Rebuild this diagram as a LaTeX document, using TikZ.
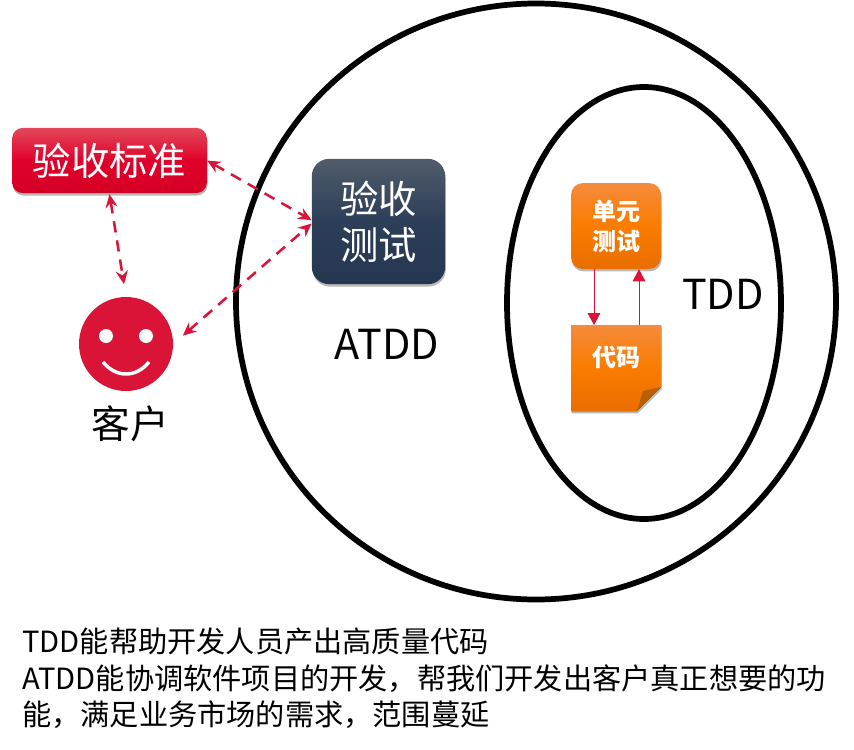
\documentclass[tikz,border=0pt]{standalone}
\usepackage{fontspec}
\setmainfont{Noto Sans CJK SC}
\usepackage{xcolor}
\usetikzlibrary{arrows.meta,positioning,calc,shapes.geometric,shadows}

\definecolor{smilered}{HTML}{DA1436}
\definecolor{foldbrown}{HTML}{B85F00}

\begin{document}
\begin{tikzpicture}[
    x=0.75pt, y=-0.75pt,
    ring/.style={ellipse, draw, line width=4.3pt, inner sep=0pt},
    softshadow/.style={drop shadow={shadow xshift=0.5pt, shadow yshift=-1.8pt, opacity=0.28, fill=black}},
    redbox/.style={rectangle, rounded corners=8pt, minimum width=146pt, minimum height=49pt, inner sep=0pt, softshadow, top color={rgb,255:red,226;green,72;blue,90}, bottom color={rgb,255:red,213;green,0;blue,36}, middle color={rgb,255:red,224;green,0;blue,43}, text=white, font=\fontsize{28.8}{34}\selectfont},
    darkbox/.style={rectangle, rounded corners=13pt, minimum width=100pt, minimum height=94pt, inner sep=0pt, align=center, softshadow, top color={rgb,255:red,81;green,92;blue,107}, bottom color={rgb,255:red,37;green,54;blue,80}, middle color={rgb,255:red,44;green,62;blue,88}, text=white, font=\fontsize{28.8}{34.5}\selectfont},
    orangebox/.style={rectangle, rounded corners=9pt, minimum width=67.5pt, minimum height=64.5pt, inner sep=0pt, align=center, softshadow, top color={rgb,255:red,245;green,139;blue,60}, bottom color={rgb,255:red,233;green,110;blue,0}, middle color={rgb,255:red,250;green,124;blue,0}, text=white, font=\fontsize{18}{22.5}\selectfont\bfseries},
    label/.style={font=\fontsize{31}{36}\selectfont, inner sep=0pt},
    dasharrow/.style={{Stealth[length=10pt,width=9pt]}-{Stealth[length=10pt,width=9pt]}, smilered, line width=1.9pt, dash pattern=on 8.5pt off 6pt},
    flow/.style={-{Triangle[length=9pt,width=9.5pt]}, smilered, line width=0.6pt},
]
\useasboundingbox (0,0) rectangle (854,750);

% Circles
\node[ring, minimum width=450pt, minimum height=447pt] (atddring) at (536,301.5) {};
\node[ring, minimum width=205.5pt, minimum height=324pt] (tddring) at (644,303) {};

% Left side
\node[redbox] (standard) at (109.5,160.5) {验收标准};
\node[circle, fill=smilered, minimum size=70.5pt, inner sep=0pt] (face) at (126,344) {};
\node[circle, fill=white, minimum size=10.5pt, inner sep=0pt] (lefteye) at ($(face)+(-20,-8)$) {};
\node[circle, fill=white, minimum size=10.5pt, inner sep=0pt] (righteye) at ($(face)+(20,-8)$) {};
\draw[white, line width=2.6pt] ($(face)+(-23,18)$) .. controls ($(face)+(-10,34)$) and ($(face)+(10,34)$) .. ($(face)+(23,18)$);
\node[font=\fontsize{29}{34}\selectfont, inner sep=0pt] (customer) at (130.5,424) {客户};

% Acceptance test
\node[darkbox] (acceptance) at (378.5,221.5) {验收\\测试};
\node[label] (atdd) at (387,344) {ATDD};

% Inner
\node[orangebox] (unittest) at (616,226) {单元\\测试};
\fill[softshadow, top color={rgb,255:red,245;green,139;blue,60}, bottom color={rgb,255:red,233;green,110;blue,0}, middle color={rgb,255:red,250;green,124;blue,0}]
    (571,325) -- (661,325) -- (661,387) -- (637,411) -- (571,411) -- cycle;
\fill[foldbrown] (661,387) -- (643,391) -- (637,411) -- cycle;
\node[inner sep=0pt, text=white, font=\fontsize{18}{22.5}\selectfont\bfseries] (code) at (616,357) {代码};
\node[label] (tdd) at (723,294) {TDD};

% Arrows
\draw[dasharrow] (standard.east) -- ([yshift=1pt]acceptance.west);
\draw[dasharrow, shorten <=9.5pt] (face.east) -- ([yshift=-1.5pt]acceptance.west);
\draw[dasharrow, shorten >=9.5pt] ([yshift=-0.5pt]standard.south) -- (face.north);
\draw[flow] (unittest.south -| 594,0) -- (594,325);
\draw[flow] (639,325) -- (unittest.south -| 639,0);

% Caption
\node[anchor=north west, align=left, inner sep=0pt, font=\fontsize{21.9}{27.4}\selectfont] (caption) at (22,628) {TDD能帮助开发人员产出高质量代码\\ATDD能协调软件项目的开发，帮我们开发出客户真正想要的功\\能，满足业务市场的需求，范围蔓延};

\end{tikzpicture}
\end{document}
